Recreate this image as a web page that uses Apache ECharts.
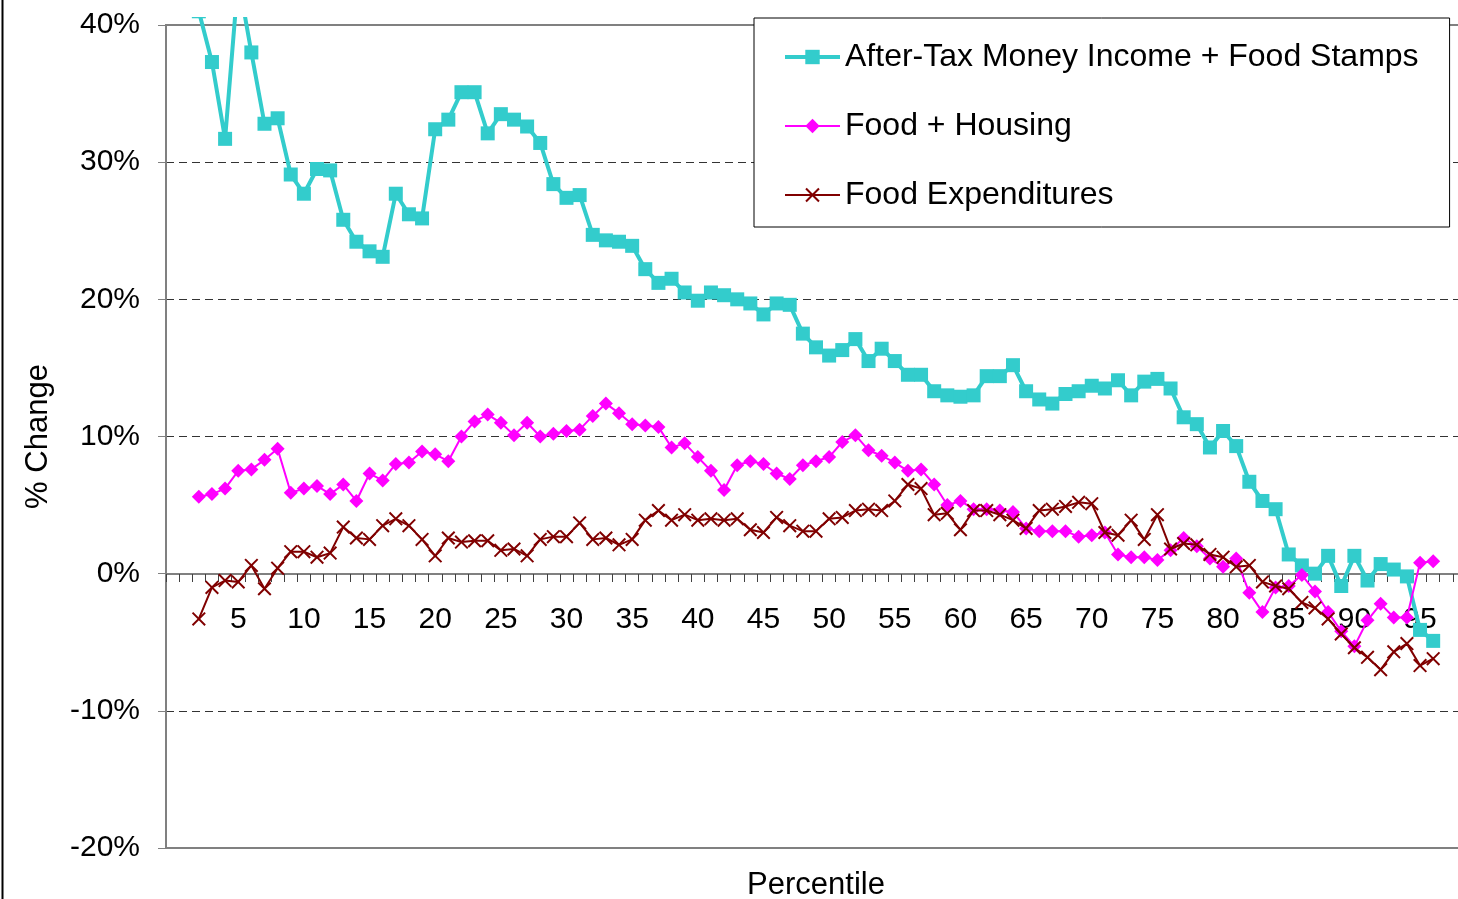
<!DOCTYPE html>
<html>
<head>
<meta charset="utf-8">
<title>% Change by Percentile</title>
<script src="https://cdn.jsdelivr.net/npm/echarts@6.0.0/dist/echarts.min.js"></script>
<style>
  html, body { margin: 0; padding: 0; background: #fff; }
  #main { width: 1458px; height: 899px; }
</style>
</head>
<body>
<div id="main"></div>
<script>
// x axis: percentile slots 0..98, values exist for 2..96
var percentiles = [];
for (var p = 0; p <= 98; p++) percentiles.push(String(p));
var firstPct = 2;
var labelStep = 5;

// % change, percentiles 2..96
var incomeFoodStamps = [
  41.0, 37.3, 31.7, 43.4, 38.0, 32.8, 33.2, 29.1, 27.7, 29.5,
  29.4, 25.8, 24.2, 23.5, 23.1, 27.7, 26.2, 25.9, 32.4, 33.1,
  35.1, 35.1, 32.1, 33.5, 33.1, 32.6, 31.4, 28.4, 27.4, 27.6,
  24.7, 24.3, 24.2, 23.9, 22.2, 21.2, 21.5, 20.5, 19.9, 20.5,
  20.3, 20.0, 19.7, 18.9, 19.7, 19.6, 17.5, 16.5, 15.9, 16.3,
  17.1, 15.5, 16.4, 15.5, 14.5, 14.5, 13.3, 13.0, 12.9, 13.0,
  14.4, 14.4, 15.2, 13.3, 12.7, 12.4, 13.1, 13.3, 13.7, 13.5,
  14.1, 13.0, 14.0, 14.2, 13.5, 11.4, 10.9, 9.2, 10.4, 9.3,
  6.7, 5.3, 4.7, 1.4, 0.6, 0.0, 1.3, -0.9, 1.3, -0.5,
  0.7, 0.3, -0.2, -4.1, -4.9
];
var foodHousing = [
  5.6, 5.8, 6.2, 7.5, 7.6, 8.3, 9.1, 5.9, 6.2, 6.4,
  5.8, 6.5, 5.3, 7.3, 6.8, 8.0, 8.1, 8.9, 8.7, 8.2,
  10.0, 11.1, 11.6, 11.0, 10.1, 11.0, 10.0, 10.2, 10.4, 10.5,
  11.5, 12.4, 11.7, 10.9, 10.8, 10.7, 9.2, 9.5, 8.5, 7.5,
  6.1, 7.9, 8.2, 8.0, 7.3, 6.9, 7.9, 8.2, 8.5, 9.6,
  10.1, 9.0, 8.6, 8.1, 7.5, 7.6, 6.5, 5.0, 5.3, 4.7,
  4.7, 4.6, 4.5, 3.3, 3.1, 3.1, 3.1, 2.7, 2.8, 3.0,
  1.4, 1.2, 1.2, 1.0, 1.7, 2.6, 2.0, 1.1, 0.5, 1.1,
  -1.4, -2.8, -1.0, -0.9, -0.1, -1.3, -2.8, -4.2, -5.3, -3.4,
  -2.2, -3.2, -3.2, 0.8, 0.9
];
var foodExpenditures = [
  -3.3, -1.0, -0.5, -0.6, 0.6, -1.1, 0.4, 1.6, 1.6, 1.2,
  1.5, 3.4, 2.6, 2.5, 3.5, 4.0, 3.5, 2.5, 1.3, 2.6,
  2.3, 2.4, 2.4, 1.7, 1.8, 1.3, 2.5, 2.7, 2.7, 3.7,
  2.5, 2.6, 2.1, 2.5, 3.9, 4.6, 3.9, 4.3, 3.9, 4.0,
  3.9, 4.0, 3.2, 3.0, 4.1, 3.5, 3.1, 3.1, 4.0, 4.1,
  4.6, 4.7, 4.6, 5.3, 6.5, 6.2, 4.3, 4.4, 3.2, 4.6,
  4.6, 4.3, 3.9, 3.3, 4.6, 4.7, 4.9, 5.2, 5.1, 3.0,
  2.8, 3.9, 2.5, 4.3, 1.8, 2.2, 2.1, 1.4, 1.2, 0.5,
  0.6, -0.6, -0.9, -1.1, -2.1, -2.5, -3.3, -4.4, -5.4, -6.1,
  -7.0, -5.7, -5.1, -6.7, -6.2
];

var seriesNames = ['After-Tax Money Income + Food Stamps', 'Food + Housing', 'Food Expenditures'];

// put values on their percentile slots
function toSlots(vals) {
  var out = [];
  for (var i = 0; i < percentiles.length; i++) {
    var k = i - firstPct;
    out.push(k >= 0 && k < vals.length ? vals[k] : null);
  }
  return out;
}

var FONT = 'Liberation Sans, Arial, sans-serif';
var crossPath = 'path://M0,1 L1,0 L10,9 L9,10 Z M9,0 L10,1 L1,10 L0,9 Z';

var chart = echarts.init(document.getElementById('main'));

var option = {
  animation: false,
  backgroundColor: '#fff',
  textStyle: { fontFamily: FONT, color: '#000' },
  grid: {
    left: 166, top: 25, width: 1300, height: 823,
    outerBoundsMode: 'none',
    show: true, borderColor: '#808080', borderWidth: 2, backgroundColor: 'transparent'
  },
  legend: {
    orient: 'vertical',
    left: 754, top: 18,
    padding: [23, 31, 16, 29],
    itemWidth: 55, itemHeight: 18, itemGap: 37,
    backgroundColor: '#fff',
    borderColor: '#000', borderWidth: 1,
    textStyle: { fontFamily: FONT, fontSize: 32, lineHeight: 32, color: '#000' },
    data: [
      { name: seriesNames[0], lineStyle: { width: 4 } },
      { name: seriesNames[1], lineStyle: { width: 2 } },
      { name: seriesNames[2], lineStyle: { width: 2 } }
    ]
  },
  xAxis: {
    type: 'category',
    data: percentiles,
    boundaryGap: true,
    // axis sits on the 0% line: 823 * 20/60 above the plot bottom
    offset: -274,
    name: 'Percentile',
    nameLocation: 'middle',
    nameGap: 296,
    nameTextStyle: { fontFamily: FONT, fontSize: 31, color: '#000' },
    axisLine: { onZero: false, lineStyle: { color: '#808080', width: 2 } },
    axisTick: { show: true, interval: 0, inside: false, length: 8, lineStyle: { color: '#404040' } },
    axisLabel: {
      interval: function (idx) { return idx > 0 && idx % labelStep === 0; },
      margin: 31, fontFamily: FONT, fontSize: 30, color: '#000'
    },
    splitLine: { show: false }
  },
  yAxis: {
    type: 'value',
    min: -20, max: 40, interval: 10,
    name: '% Change',
    nameLocation: 'middle',
    nameGap: 112,
    nameTextStyle: { fontFamily: FONT, fontSize: 31, color: '#000' },
    axisLine: { show: true, lineStyle: { color: '#808080', width: 2 } },
    axisTick: { show: true, inside: false, length: 8, lineStyle: { color: '#808080' } },
    axisLabel: { formatter: '{value}%', margin: 26, fontFamily: FONT, fontSize: 30, color: '#000' },
    splitLine: {
      show: true,
      lineStyle: {
        // -20 .. 40, borders and the zero axis stay solid
        color: ['rgba(0,0,0,0)', '#333', 'rgba(0,0,0,0)', '#333', '#333', '#333', 'rgba(0,0,0,0)'],
        width: 1, type: [8, 5]
      }
    }
  },
  series: [
    {
      name: seriesNames[0], type: 'line',
      data: toSlots(incomeFoodStamps),
      clip: false,
      showAllSymbol: true,
      symbol: 'rect', symbolSize: 14,
      lineStyle: { color: '#33CCCC', width: 4 },
      itemStyle: { color: '#33CCCC' },
      z: 3
    },
    {
      name: seriesNames[1], type: 'line',
      data: toSlots(foodHousing),
      showAllSymbol: true,
      symbol: 'diamond', symbolSize: 14,
      lineStyle: { color: '#FF00FF', width: 2 },
      itemStyle: { color: '#FF00FF' },
      z: 4
    },
    {
      name: seriesNames[2], type: 'line',
      data: toSlots(foodExpenditures),
      showAllSymbol: true,
      symbol: crossPath, symbolSize: 14,
      lineStyle: { color: '#800000', width: 2 },
      itemStyle: { color: '#800000' },
      z: 5
    }
  ],
  graphic: [
    // the lines overshoot the plot top a little and stop at y=18
    { type: 'rect', z: 100, shape: { x: 168, y: 0, width: 1290, height: 17 }, style: { fill: '#fff' } },
    // chart area frame on the left
    { type: 'line', z: 100, shape: { x1: 2.5, y1: 0, x2: 2.5, y2: 899 }, style: { stroke: '#000', lineWidth: 2 } }
  ]
};

chart.setOption(option);
</script>
</body>
</html>
